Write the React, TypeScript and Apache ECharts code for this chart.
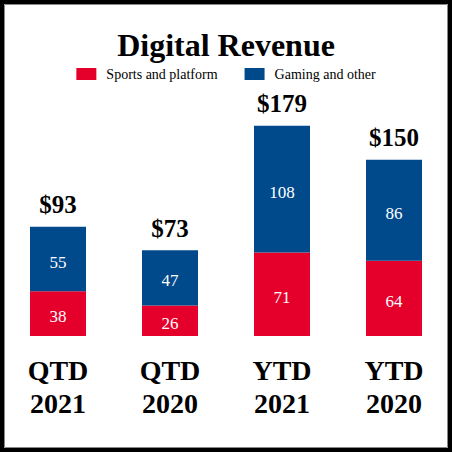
import React, { useEffect, useRef } from "react";
import * as echarts from "echarts";

const categories = ["QTD\n2021", "QTD\n2020", "YTD\n2021", "YTD\n2020"];
const sportsPlatform = [38, 26, 71, 64];
const gamingOther = [55, 47, 108, 86];
const totals = [93, 73, 179, 150];

const SERIF = "'Liberation Serif', 'Times New Roman', serif";
const RED = "#E4002B";
const BLUE = "#004A8C";

export default function App() {
  const ref = useRef<HTMLDivElement>(null);
  useEffect(() => {
    if (!ref.current) return;
    const chart = echarts.init(ref.current, null, { renderer: "svg" });
    chart.setOption({
      animation: false,
      backgroundColor: "#ffffff",
      title: {
        text: "Digital Revenue",
        left: "center",
        top: 24,
        textStyle: { fontFamily: SERIF, fontSize: 32, fontWeight: "bold", color: "#000" },
      },
      legend: {
        top: 62,
        left: "center",
        itemWidth: 20,
        itemHeight: 12,
        itemGap: 27,
        icon: "rect",
        data: ["Sports and platform", "Gaming and other"],
        textStyle: { fontFamily: SERIF, fontSize: 14, color: "#000", padding: [0, 0, 0, 5] },
      },
      grid: { left: 2, right: 2, top: 101, bottom: 116, containLabel: false },
      xAxis: {
        type: "category",
        data: categories,
        axisLine: { show: false },
        axisTick: { show: false },
        axisLabel: {
          fontFamily: SERIF,
          fontSize: 28,
          fontWeight: "bold",
          color: "#000",
          lineHeight: 33,
          margin: 18,
          interval: 0,
        },
      },
      yAxis: {
        type: "value",
        min: 0,
        max: 200,
        show: false,
        splitLine: { show: false },
      },
      series: [
        {
          name: "Sports and platform",
          type: "bar",
          stack: "rev",
          barWidth: 56,
          data: sportsPlatform,
          itemStyle: { color: RED },
          label: {
            show: true,
            position: "inside",
            color: "#fff",
            fontFamily: SERIF,
            fontSize: 17,
            offset: [0, 3],
          },
        },
        {
          name: "Gaming and other",
          type: "bar",
          stack: "rev",
          barWidth: 56,
          data: gamingOther,
          itemStyle: { color: BLUE },
          label: {
            show: true,
            position: "inside",
            color: "#fff",
            fontFamily: SERIF,
            fontSize: 17,
            offset: [0, 3],
          },
        },
        {
          name: "Total",
          type: "line",
          data: totals,
          symbol: "circle",
          symbolSize: 1,
          itemStyle: { color: "rgba(0,0,0,0)" },
          lineStyle: { opacity: 0 },
          silent: true,
          label: {
            show: true,
            position: "top",
            distance: 9,
            formatter: (p: any) => "$" + p.value,
            fontFamily: SERIF,
            fontSize: 25,
            fontWeight: "bold",
            color: "#000",
          },
        },
      ],
      graphic: [
        {
          type: "rect",
          shape: { x: 2, y: 2, width: 448, height: 448 },
          style: { fill: "none", stroke: "#000", lineWidth: 4 },
          silent: true,
        },
        {
          type: "rect",
          shape: { x: 4.5, y: 4.5, width: 443, height: 443 },
          style: { fill: "none", stroke: "#888", lineWidth: 1 },
          silent: true,
        },
      ],
    });
    return () => chart.dispose();
  }, []);
  return (
    <div
      ref={ref}
      style={{ position: "absolute", left: 0, top: 0, width: 452, height: 452 }}
    />
  );
}
